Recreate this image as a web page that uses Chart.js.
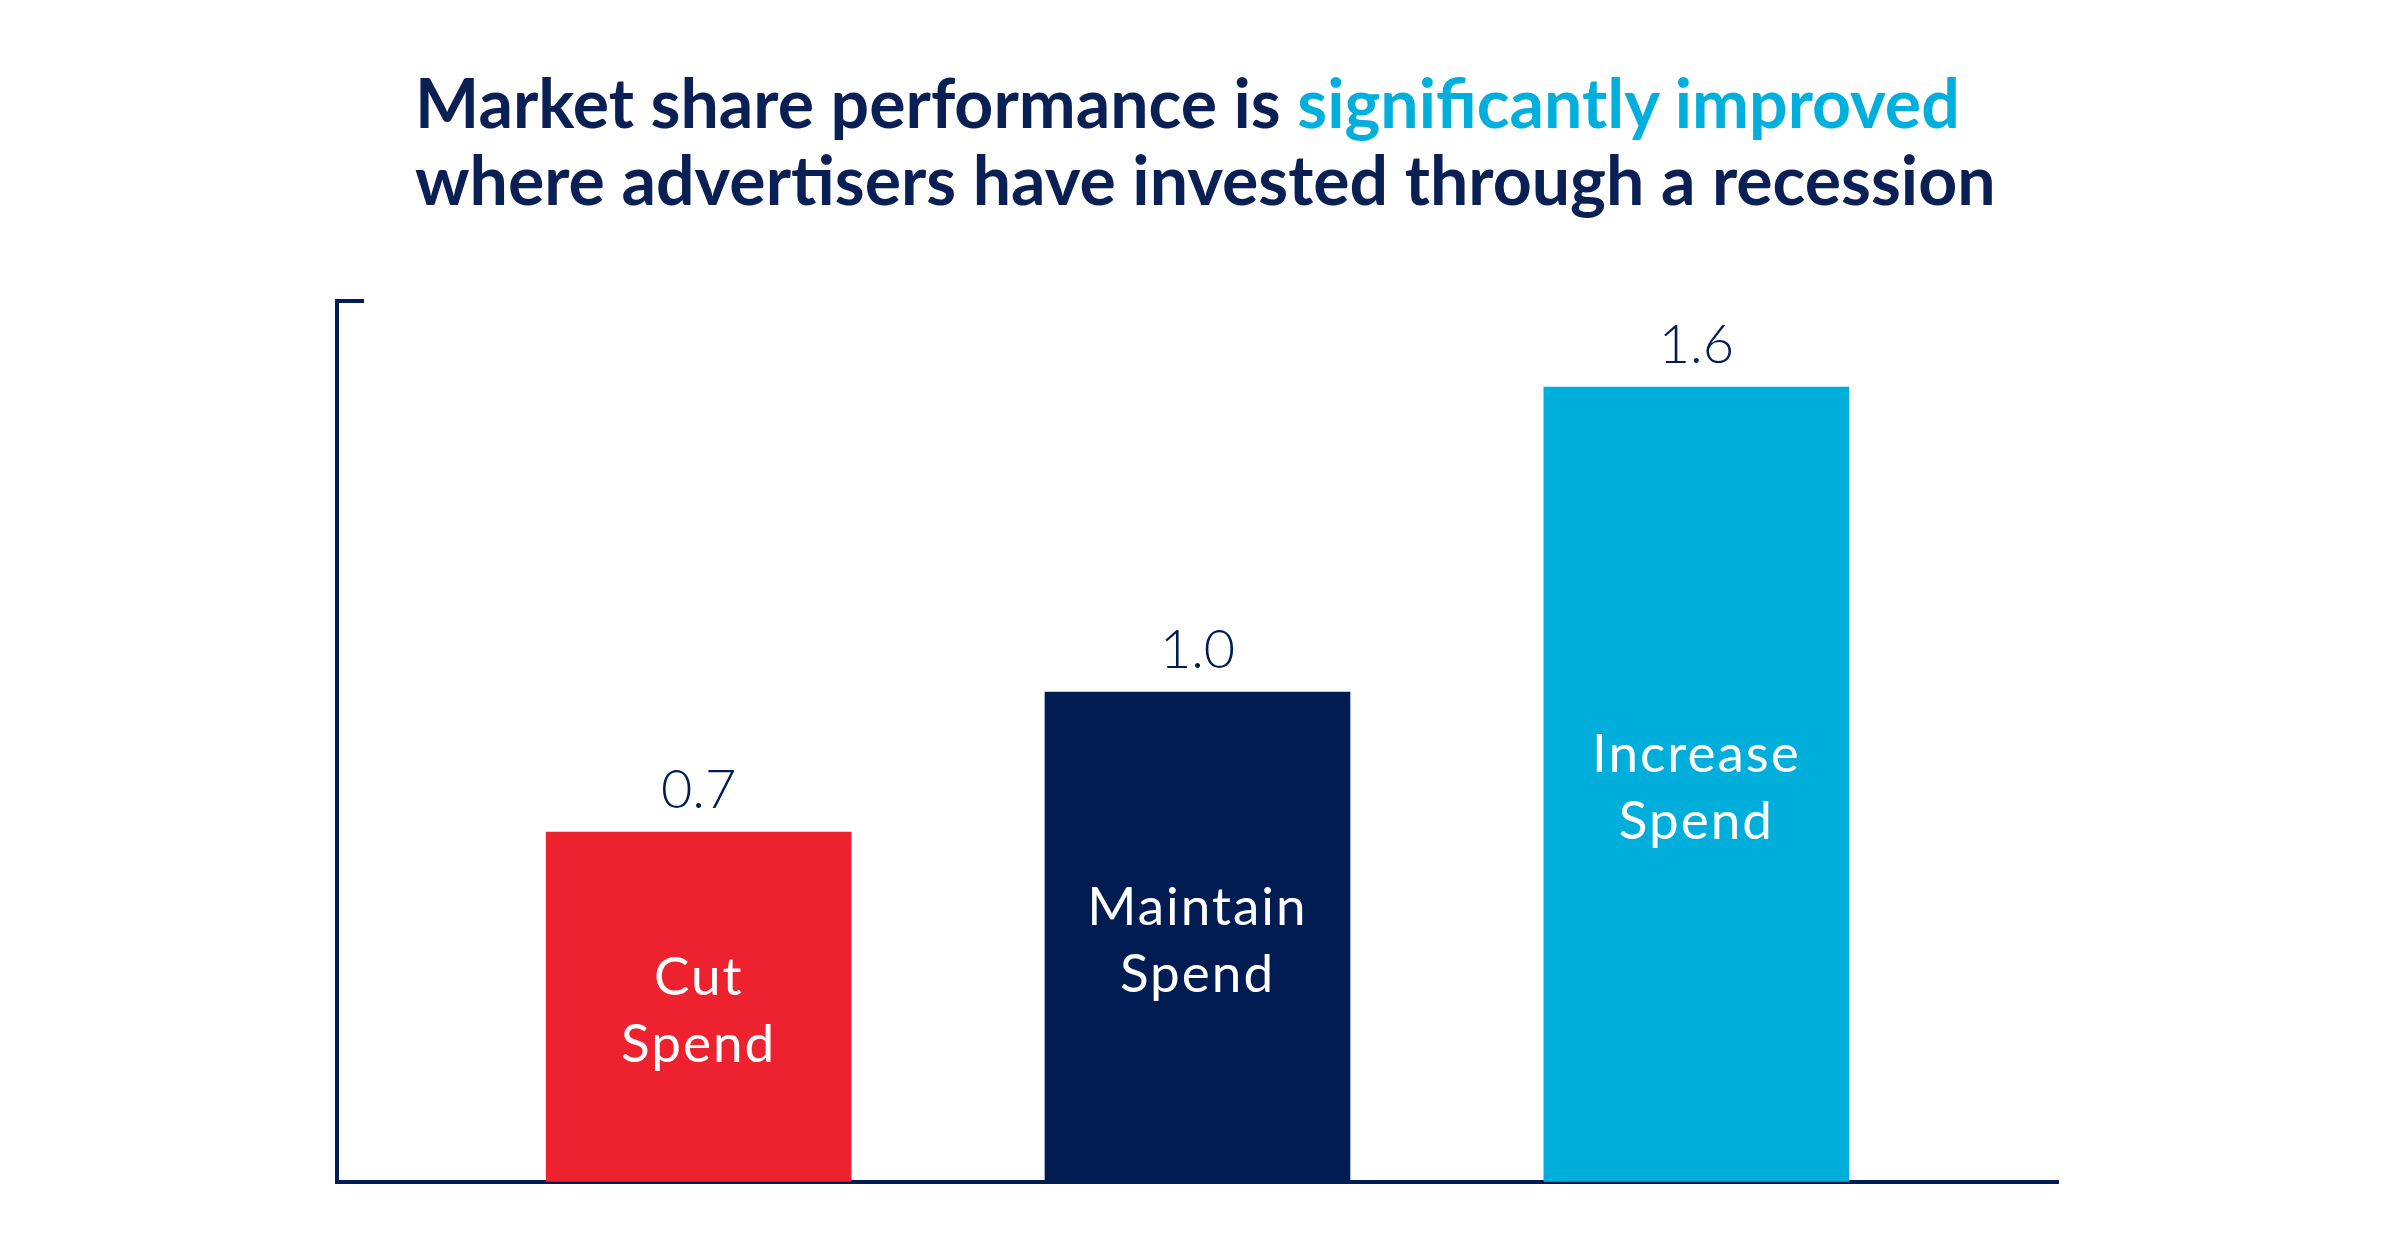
<!DOCTYPE html>
<html>
<head>
<meta charset="utf-8">
<script src="https://cdn.jsdelivr.net/npm/chart.js@4.4.1/dist/chart.umd.min.js"></script>
<style>
  html, body { margin: 0; padding: 0; background: #ffffff; }
  body { width: 2400px; height: 1254px; position: relative; overflow: hidden; }
  #title {
    position: absolute; left: 415px; top: 63px; margin: 0;
    font-family: "Lato", sans-serif; font-weight: 700; font-size: 68px; line-height: 77px;
    color: #0a1f53; white-space: nowrap;
  }
  #title .hl { color: #00afdb; }
  #wrap { position: absolute; left: 0; top: 0; width: 2400px; height: 1254px; }
</style>
</head>
<body>
<h1 id="title">Market share performance is <span class="hl">significantly improved</span><br>where advertisers have invested through a recession</h1>
<div id="wrap"><canvas id="c" width="2400" height="1254"></canvas></div>
<script>
// ---- data ----
const categories = [["Cut", "Spend"], ["Maintain", "Spend"], ["Increase", "Spend"]];
const positions = [0, 1, 2];
const values = [0.70, 0.98, 1.59];
const valueLabels = ["0.7", "1.0", "1.6"];
const barColors = ["#ed222e", "#011c53", "#00aedb"];

const NAVY = "#011c53";

const labelPlugin = {
  id: "barLabels",
  afterDatasetsDraw(chart) {
    const ctx = chart.ctx;
    const meta = chart.getDatasetMeta(0);
    ctx.save();
    meta.data.forEach((bar, i) => {
      const p = bar.getProps(["x", "y", "base"], true);
      ctx.textAlign = "center";
      ctx.textBaseline = "alphabetic";
      ctx.fillStyle = NAVY;
      ctx.letterSpacing = "0px";
      ctx.font = "300 54px Lato, sans-serif";
      ctx.fillText(valueLabels[i], p.x, p.y - 24);
      const mid = (p.y + p.base) / 2;
      ctx.fillStyle = "#ffffff";
      ctx.letterSpacing = "2px";
      ctx.font = "400 53px Lato, sans-serif";
      const lines = categories[i];
      ctx.fillText(lines[0], p.x, mid - 12);
      ctx.fillText(lines[1], p.x, mid + 55);
    });
    ctx.restore();
  }
};

const capPlugin = {
  id: "axisCap",
  afterDraw(chart) {
    const ctx = chart.ctx;
    const a = chart.chartArea;
    ctx.save();
    ctx.strokeStyle = NAVY;
    ctx.lineWidth = 4;
    ctx.beginPath();
    ctx.moveTo(a.left - 2, a.top);
    ctx.lineTo(a.left + 27, a.top);
    ctx.stroke();
    ctx.restore();
  }
};

new Chart(document.getElementById("c"), {
  type: "bar",
  data: {
    datasets: [{
      data: positions.map((x, i) => ({ x: x, y: values[i] })),
      backgroundColor: barColors,
      borderWidth: 0,
      barThickness: 305
    }]
  },
  options: {
    responsive: false,
    animation: false,
    layout: { padding: { left: 337, right: 342, top: 301, bottom: 72 } },
    plugins: { legend: { display: false }, tooltip: { enabled: false }, title: { display: false } },
    scales: {
      x: {
        type: "linear",
        offset: false,
        min: -0.725, max: 2.725,
        ticks: { display: false },
        grid: { display: true, drawOnChartArea: false, drawTicks: false, tickLength: 0, offset: false },
        border: { display: true, color: NAVY, width: 4 }
      },
      y: {
        min: 0, max: 1.762,
        ticks: { display: false },
        grid: { display: true, drawOnChartArea: false, drawTicks: false, tickLength: 0 },
        border: { display: true, color: NAVY, width: 4 }
      }
    }
  },
  plugins: [labelPlugin, capPlugin]
});
</script>
</body>
</html>
